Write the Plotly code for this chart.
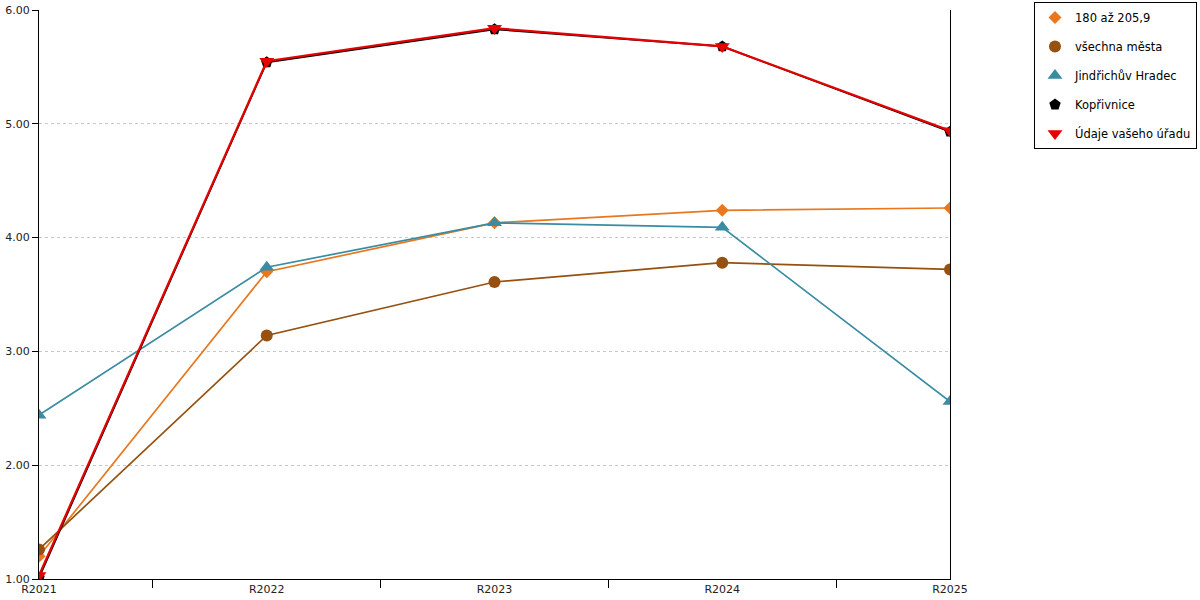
import plotly.graph_objects as go

categories = ["R2021", "R2022", "R2023", "R2024", "R2025"]
s_180 = [1.20, 3.70, 4.13, 4.24, 4.26]
s_vsechna = [1.26, 3.14, 3.61, 3.78, 3.72]
s_jh = [2.44, 3.74, 4.13, 4.09, 2.56]
s_kop = [1.01, 5.54, 5.83, 5.68, 4.93]
s_udaje = [1.03, 5.55, 5.84, 5.68, 4.94]

names = ["180 až 205,9", "všechna města", "Jindřichův Hradec", "Kopřivnice", "Údaje vašeho úřadu"]
series = [s_180, s_vsechna, s_jh, s_kop, s_udaje]
colors = ["#E8771E", "#96500F", "#3A8CA2", "#000000", "#E60000"]
symbols = ["diamond", "circle", "triangle-up", "pentagon", "triangle-down"]
sizes = [10, 12, 13, 12, 13]
widths = [1.7, 1.7, 1.7, 1.7, 2.2]

xpos = list(range(len(categories)))

fig = go.Figure()
for i, (n, s) in enumerate(zip(names, series)):
    fig.add_trace(go.Scatter(
        x=xpos, y=s, name=n, mode="lines",
        line=dict(color=colors[i], width=widths[i]),
        showlegend=False, legendgroup=f"g{i}", hoverinfo="skip",
    ))
    fig.add_trace(go.Scatter(
        x=xpos, y=s, name=n, mode="markers",
        marker=dict(color=colors[i], symbol=symbols[i], size=sizes[i]),
        legendgroup=f"g{i}",
    ))

fig.update_layout(
    width=1200, height=600,
    margin=dict(l=39, r=250, t=10, b=21, autoexpand=False),
    plot_bgcolor="white", paper_bgcolor="white",
    font=dict(family="DejaVu Sans", size=12, color="#222"),
    showlegend=True,
    legend=dict(
        x=1.0922, y=1.014, xanchor="left", yanchor="top",
        bordercolor="#000", borderwidth=1, bgcolor="white",
        traceorder="grouped", tracegroupgap=10, itemwidth=30,
        font=dict(size=11.5, color="#000"),
    ),
)
fig.update_xaxes(
    range=[0, 4], tickvals=xpos, ticktext=categories,
    showgrid=False, zeroline=False,
    showline=True, linecolor="#000", linewidth=1,
    ticks="", ticklen=0, tickfont=dict(size=11),
    minor=dict(ticks="outside", ticklen=8, tickcolor="#000", tick0=0.5, dtick=1, showgrid=False),
)
fig.update_yaxes(
    range=[1, 6], tickvals=[1, 2, 3, 4, 5, 6], tickformat=".2f",
    showgrid=True, gridcolor="#c8c8c8", griddash="dot", gridwidth=1,
    zeroline=False, showline=True, linecolor="#000", linewidth=1, mirror=True,
    ticks="outside", ticklen=6, tickcolor="#000", tickfont=dict(size=11),
)

fig.write_html("out.html", config={"displayModeBar": False},
               post_script="document.body.style.margin='0';document.body.style.padding='0';")
